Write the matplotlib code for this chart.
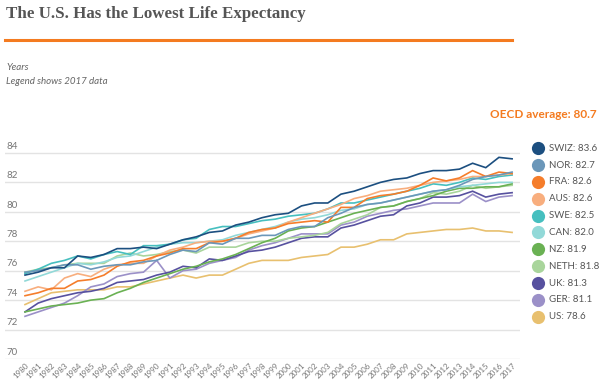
import numpy as np
import matplotlib
matplotlib.use("Agg")
from matplotlib import pyplot as plt
from matplotlib.lines import Line2D

# Life expectancy at birth, 1980-2017
years = list(range(1980, 2018))

swiz = [75.7, 75.9, 76.2, 76.2, 77.0, 76.9, 77.1, 77.5, 77.5, 77.6, 77.5, 77.8, 78.1, 78.3, 78.6, 78.7,
        79.1, 79.3, 79.6, 79.8, 79.9, 80.4, 80.6, 80.6, 81.2, 81.4, 81.7, 82.0, 82.2, 82.3, 82.6, 82.8,
        82.8, 82.9, 83.3, 83.0, 83.7, 83.6]
nor = [75.9, 76.0, 76.2, 76.4, 76.4, 76.1, 76.3, 76.4, 76.4, 76.6, 76.7, 77.1, 77.4, 77.3, 77.9, 77.8,
       78.2, 78.2, 78.4, 78.4, 78.8, 79.0, 79.0, 79.6, 79.9, 80.3, 80.5, 80.6, 80.8, 81.0, 81.2, 81.4,
       81.5, 81.8, 82.2, 82.4, 82.5, 82.7]
fra = [74.3, 74.5, 74.8, 74.8, 75.3, 75.4, 75.7, 76.3, 76.6, 76.7, 77.0, 77.2, 77.5, 77.5, 77.9, 78.0,
       78.2, 78.6, 78.8, 78.9, 79.2, 79.3, 79.4, 79.3, 80.3, 80.3, 80.9, 81.1, 81.2, 81.4, 81.8, 82.3,
       82.1, 82.3, 82.8, 82.4, 82.7, 82.6]
aus = [74.6, 74.9, 74.7, 75.5, 75.8, 75.6, 76.1, 76.4, 76.5, 76.5, 77.0, 77.4, 77.6, 77.9, 78.0, 78.0,
       78.2, 78.5, 78.7, 78.9, 79.3, 79.6, 79.9, 80.2, 80.5, 80.9, 81.1, 81.4, 81.5, 81.6, 81.8, 82.0,
       82.1, 82.2, 82.4, 82.4, 82.5, 82.6]
swe = [75.8, 76.1, 76.5, 76.7, 77.0, 76.8, 77.1, 77.3, 77.1, 77.7, 77.7, 77.8, 78.1, 78.2, 78.8, 79.0,
       79.0, 79.2, 79.4, 79.5, 79.7, 79.8, 79.9, 80.2, 80.6, 80.6, 80.8, 81.0, 81.2, 81.4, 81.6, 81.9,
       81.8, 82.0, 82.3, 82.2, 82.4, 82.5]
can = [75.3, 75.6, 75.9, 76.2, 76.5, 76.4, 76.6, 76.9, 77.0, 77.3, 77.6, 77.8, 77.9, 77.9, 78.0, 78.1,
       78.4, 78.6, 78.8, 79.0, 79.3, 79.5, 79.6, 79.8, 80.1, 80.2, 80.5, 80.6, 80.8, 81.0, 81.2, 81.4,
       81.5, 81.7, 81.8, 81.9, 82.0, 82.0]
nz = [73.2, 73.4, 73.6, 73.7, 73.8, 74.0, 74.1, 74.5, 74.8, 75.2, 75.5, 75.8, 76.1, 76.3, 76.6, 76.8,
      77.1, 77.5, 77.9, 78.2, 78.7, 78.9, 79.0, 79.3, 79.6, 79.9, 80.1, 80.3, 80.4, 80.7, 80.9, 81.1,
      81.4, 81.6, 81.6, 81.7, 81.7, 81.9]
neth = [75.9, 76.1, 76.2, 76.4, 76.5, 76.5, 76.5, 77.0, 77.2, 77.0, 77.1, 77.3, 77.4, 77.2, 77.6, 77.6,
        77.6, 77.9, 78.0, 78.0, 78.2, 78.3, 78.4, 78.6, 79.2, 79.5, 79.8, 80.3, 80.4, 80.7, 80.9, 81.3,
        81.2, 81.4, 81.8, 81.6, 81.7, 81.8]
uk = [73.2, 73.8, 74.1, 74.3, 74.5, 74.6, 74.8, 75.2, 75.3, 75.4, 75.7, 75.9, 76.3, 76.2, 76.8, 76.7,
      77.0, 77.3, 77.4, 77.6, 77.9, 78.2, 78.3, 78.3, 78.9, 79.1, 79.4, 79.7, 79.8, 80.4, 80.6, 81.0,
      81.0, 81.1, 81.4, 81.0, 81.2, 81.3]
ger = [72.9, 73.2, 73.5, 73.8, 74.3, 74.9, 75.1, 75.6, 75.8, 75.9, 76.7, 75.5, 76.0, 76.1, 76.5, 76.7,
       76.9, 77.4, 77.7, 77.9, 78.2, 78.5, 78.5, 78.5, 79.1, 79.3, 79.7, 79.9, 80.1, 80.2, 80.4, 80.6,
       80.6, 80.6, 81.2, 80.7, 81.0, 81.1]
us = [73.7, 74.1, 74.5, 74.6, 74.7, 74.7, 74.7, 74.9, 74.9, 75.1, 75.3, 75.5, 75.7, 75.5, 75.7, 75.7,
      76.1, 76.5, 76.7, 76.7, 76.7, 76.9, 77.0, 77.1, 77.6, 77.6, 77.8, 78.1, 78.1, 78.5, 78.6, 78.7,
      78.8, 78.8, 78.9, 78.7, 78.7, 78.6]

names = ["SWIZ", "NOR", "FRA", "AUS", "SWE", "CAN", "NZ", "NETH", "UK", "GER", "US"]
series = [swiz, nor, fra, aus, swe, can, nz, neth, uk, ger, us]
colors = ["#1c4f80", "#6b97b9", "#f57d2b", "#f8ae7e", "#46bfbf", "#92d9d8",
          "#6ab153", "#a9d59c", "#57519f", "#9b90c8", "#e8c06f"]
oecd_avg = 80.7

plt.rcParams['font.family'] = ['Lato', 'DejaVu Sans']

fig = plt.figure(figsize=(6, 3.8), dpi=100)
ax = fig.add_axes([5 / 600, 1 - 359 / 380, 515 / 600, 209 / 380])

# draw back to front so SWIZ ends up on top
for name, vals, c in reversed(list(zip(names, series, colors))):
    ax.plot(years, vals, color=c, lw=1.2, solid_joinstyle='miter')

ax.set_xlim(1978.48, 2017.6)
ax.set_ylim(70, 84.2)
ax.set_yticks(range(70, 85, 2))
ax.grid(axis='y', color='#e3e3e3', lw=1)
ax.set_axisbelow(True)
for s in ax.spines.values():
    s.set_visible(False)
ax.tick_params(axis='y', length=0, labelleft=False)
ax.tick_params(axis='x', length=0, pad=2, labelsize=5.8, labelcolor='#777777')
ax.set_xticks(years)
ax.set_xticklabels([str(y) for y in years], rotation=45, ha='right', va='top',
                   rotation_mode='anchor')

# y labels sit just above their gridlines
for v in range(70, 85, 2):
    ax.text(0.002, v + 0.15, str(v), transform=ax.get_yaxis_transform(),
            fontsize=7, color='#777777', ha='left', va='bottom')

# header
fig.text(6 / 600, 1 - 18 / 380, "The U.S. Has the Lowest Life Expectancy",
         family=['Liberation Serif'], fontweight='bold', fontsize=12.2,
         color='#555555', ha='left', va='baseline')
fig.add_artist(Line2D([5 / 600, 512 / 600], [1 - 39.5 / 380] * 2, color='#f47b20', lw=2.2))
fig.text(6 / 600, 1 - 68 / 380, "Years", fontsize=7, style='italic',
         color='#666666', ha='left', va='center')
fig.text(6 / 600, 1 - 82 / 380, "Legend shows 2017 data", fontsize=7, style='italic',
         color='#666666', ha='left', va='center')
fig.text(597 / 600, 1 - 115 / 380, f"OECD average: {oecd_avg}", fontsize=8.5,
         fontweight='bold', color='#f47b20', ha='right', va='center')

# legend with 2017 values
for i, (name, vals, c) in enumerate(zip(names, series, colors)):
    y = 1 - (148.3 + i * 16.84) / 380
    fig.add_artist(Line2D([538 / 600], [y], marker='o', markersize=9.5,
                          color=c, markeredgewidth=0))
    fig.text(549 / 600, y, f"{name}: {vals[-1]}", fontsize=7, color='#555555',
             ha='left', va='center')

fig.savefig("out.png", dpi=100)
